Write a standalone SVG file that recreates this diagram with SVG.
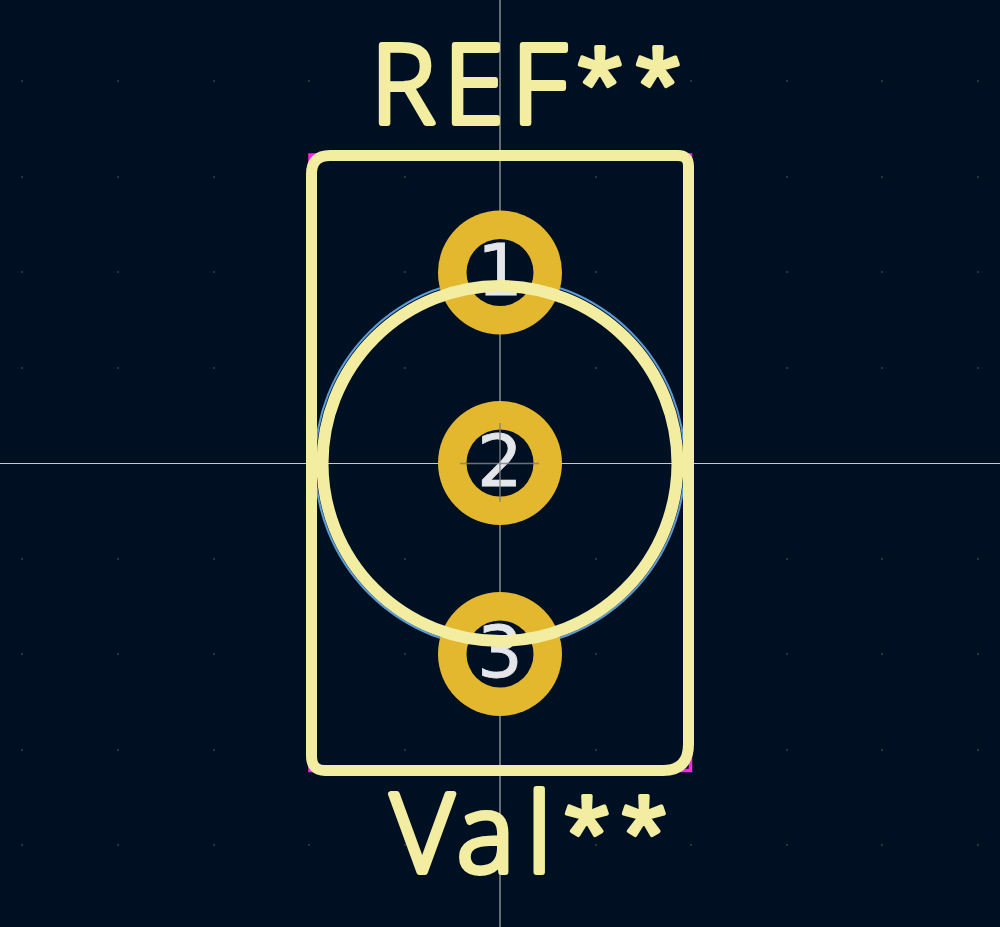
<svg xmlns="http://www.w3.org/2000/svg" width="1000" height="927" viewBox="0 0 1000 927">
  <style>
    .silk { fill: none; stroke: #f2eda1; stroke-width: 11; }
    .silktext { fill: #f2eda1; stroke: #f2eda1; stroke-width: 6; stroke-linejoin: round; stroke-linecap: round; font-family: "Open Sans", sans-serif; font-weight: 300; font-size: 108px; }
    .star { font-family: "Liberation Sans", sans-serif; font-weight: 400; font-size: 112px; stroke-width: 4; }
    .pad { fill: #e3b72e; }
    .hole { fill: #001023; }
    .num { fill: #e4e6ea; stroke: #e4e6ea; stroke-width: 0.8; font-family: "DejaVu Sans", sans-serif; font-size: 72px; text-anchor: middle; }
  </style>
  <rect width="1000" height="927" fill="#001023"/>
  <path id="grid" fill="#2a3240" d="M21 80h2v2h-2zM117 80h2v2h-2zM213 80h2v2h-2zM308 80h2v2h-2zM404 80h2v2h-2zM595 80h2v2h-2zM690 80h2v2h-2zM786 80h2v2h-2zM881 80h2v2h-2zM977 80h2v2h-2zM21 176h2v2h-2zM117 176h2v2h-2zM213 176h2v2h-2zM404 176h2v2h-2zM595 176h2v2h-2zM786 176h2v2h-2zM881 176h2v2h-2zM977 176h2v2h-2zM21 271h2v2h-2zM117 271h2v2h-2zM213 271h2v2h-2zM404 271h2v2h-2zM595 271h2v2h-2zM786 271h2v2h-2zM881 271h2v2h-2zM977 271h2v2h-2zM21 367h2v2h-2zM117 367h2v2h-2zM213 367h2v2h-2zM404 367h2v2h-2zM595 367h2v2h-2zM786 367h2v2h-2zM881 367h2v2h-2zM977 367h2v2h-2zM21 558h2v2h-2zM117 558h2v2h-2zM213 558h2v2h-2zM404 558h2v2h-2zM595 558h2v2h-2zM786 558h2v2h-2zM881 558h2v2h-2zM977 558h2v2h-2zM21 653h2v2h-2zM117 653h2v2h-2zM213 653h2v2h-2zM404 653h2v2h-2zM595 653h2v2h-2zM786 653h2v2h-2zM881 653h2v2h-2zM977 653h2v2h-2zM21 749h2v2h-2zM117 749h2v2h-2zM213 749h2v2h-2zM404 749h2v2h-2zM595 749h2v2h-2zM786 749h2v2h-2zM881 749h2v2h-2zM977 749h2v2h-2zM21 844h2v2h-2zM117 844h2v2h-2zM213 844h2v2h-2zM308 844h2v2h-2zM404 844h2v2h-2zM595 844h2v2h-2zM690 844h2v2h-2zM786 844h2v2h-2zM881 844h2v2h-2zM977 844h2v2h-2z"/>
  <g id="connectors">
    <path d="M500 0V927M0 463.5H1000" fill="none" stroke="#c8c8c8" stroke-width="1"/>
  </g>
  <circle id="outline" cx="500" cy="463" r="185" fill="none" stroke="#5b9bd8" stroke-width="2"/>
  <rect id="bounds" x="310" y="155" width="380.5" height="615.5" fill="none" stroke="#ff26e2" stroke-width="3.5"/>
  <g id="pad1"><circle class="pad" cx="500" cy="272.5" r="62"/><circle class="hole" cx="500" cy="272.5" r="33.5"/><text class="num" x="500" y="294.5">1</text></g>
  <g id="pad2"><circle class="pad" cx="500" cy="463" r="62"/><circle class="hole" cx="500" cy="463" r="33.5"/><text class="num" x="500" y="485.5">2</text></g>
  <g id="pad3"><circle class="pad" cx="500" cy="654" r="62"/><circle class="hole" cx="500" cy="654" r="33.5"/><text class="num" x="500" y="677">3</text></g>
  <path id="origin" d="M500 423V502M460 463.5H539" fill="none" stroke="#808080" stroke-width="1.5" opacity="0.85"/>
  <path id="frame" class="silk" d="M330 155.5H678Q688.5 155.5 688.5 166V744Q688.5 770.5 663 770.5H325Q311.5 770.5 311.5 756V174Q311.5 155.5 330 155.5Z"/>
  <circle id="ring" class="silk" cx="500" cy="463.5" r="177.5" style="stroke-width:12"/>
  <g id="reference"><text class="silktext" y="123"><tspan x="371">R</tspan><tspan x="444">E</tspan><tspan x="512">F</tspan><tspan class="star" x="578" y="124">*</tspan><tspan class="star" x="636" y="124">*</tspan></text></g>
  <g id="value"><text class="silktext" y="872"><tspan x="391">V</tspan><tspan x="457">a</tspan><tspan x="527">l</tspan><tspan class="star" x="565" y="873">*</tspan><tspan class="star" x="622" y="873">*</tspan></text></g>
</svg>
